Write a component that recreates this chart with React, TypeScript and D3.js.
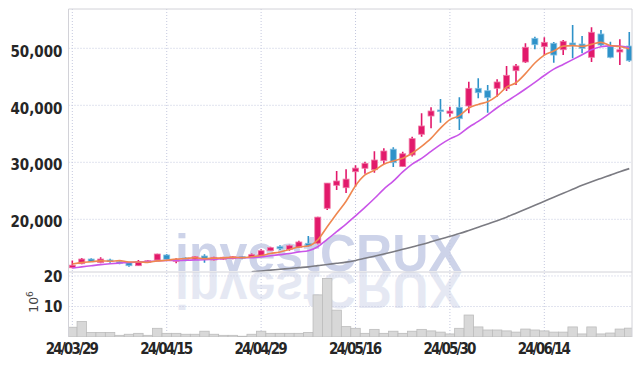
import React from 'react';
import * as d3 from 'd3';

const dates = [
  '2024-03-29',
  '2024-04-01', '2024-04-02', '2024-04-03', '2024-04-04', '2024-04-05',
  '2024-04-08', '2024-04-09', '2024-04-11', '2024-04-12',
  '2024-04-15', '2024-04-16', '2024-04-17', '2024-04-18', '2024-04-19',
  '2024-04-22', '2024-04-23', '2024-04-24', '2024-04-25', '2024-04-26',
  '2024-04-29', '2024-04-30', '2024-05-02', '2024-05-03',
  '2024-05-07', '2024-05-08', '2024-05-09', '2024-05-10',
  '2024-05-13', '2024-05-14', '2024-05-16', '2024-05-17',
  '2024-05-20', '2024-05-21', '2024-05-22', '2024-05-23', '2024-05-24',
  '2024-05-27', '2024-05-28', '2024-05-29', '2024-05-30', '2024-05-31',
  '2024-06-03', '2024-06-04', '2024-06-05', '2024-06-07',
  '2024-06-10', '2024-06-11', '2024-06-12', '2024-06-13', '2024-06-14',
  '2024-06-17', '2024-06-18', '2024-06-19', '2024-06-20', '2024-06-21',
  '2024-06-24', '2024-06-25', '2024-06-26', '2024-06-27',
];

const opens = [
  11500, 12210, 13030, 12400, 12860, 12550, 12380, 11860, 12450, 12860,
  13740, 12630, 13210, 13000, 13560, 12860, 13000, 13090, 13440, 13330,
  13560, 14490, 15190, 14720, 15080, 15790, 15790, 21930, 25960, 25540,
  28350, 28950, 28700, 30280, 32300, 29250, 31280, 34920, 38120, 39180,
  38600, 39650, 39880, 42980, 42560, 42980, 42910, 46070, 47600, 51750,
  50280, 50880, 49750, 50930, 50750, 48420, 52510, 50280, 49350, 50400,
];
const highs = [
  12780, 13210, 13160, 13330, 13090, 12680, 12510, 12860, 12860, 13970,
  13910, 13160, 13330, 13560, 13860, 13440, 13440, 13560, 13560, 14000,
  14730, 15190, 15440, 15550, 16240, 17070, 20460, 26370, 28470, 28770,
  29470, 30100, 31920, 32460, 32640, 31860, 34490, 38600, 39650, 41100,
  39760, 41400, 44140, 44730, 43560, 44560, 46900, 47250, 50880, 52040,
  51930, 51100, 51460, 54090, 52160, 53680, 53210, 51160, 51580, 52860,
];
const lows = [
  11430, 12100, 12500, 12300, 12390, 12100, 11680, 11810, 12420, 12800,
  12800, 12280, 12630, 12860, 12390, 12750, 12900, 13000, 13000, 13210,
  13440, 14440, 14610, 14490, 14970, 15190, 15610, 21630, 25140, 24600,
  25720, 28000, 28180, 29700, 29180, 29180, 31000, 34490, 35960, 36950,
  38000, 35670, 38600, 41230, 38700, 41510, 42500, 43560, 47400, 49820,
  48820, 47470, 48820, 48250, 49120, 47600, 50400, 48250, 47070, 47650,
];
const closes = [
  11950, 13030, 12560, 13030, 12650, 12450, 11860, 12560, 12730, 13910,
  12980, 12980, 13000, 13440, 13090, 13330, 13330, 13440, 13210, 13790,
  14490, 15020, 14840, 15370, 16020, 15320, 20380, 26350, 26720, 27050,
  28980, 29820, 30400, 31980, 29930, 31500, 34150, 36370, 39000, 38950,
  39000, 37650, 42980, 42210, 41330, 44090, 45260, 46900, 50180, 50630,
  51050, 48820, 51230, 50580, 50000, 52810, 50580, 48420, 49750, 47820,
];
// volume, in millions of shares
const volumes = [
  3.2, 5.1, 1.5, 1.5, 1.5, 0.55, 0.9, 1.2, 0.55, 2.85,
  1.2, 1.2, 0.9, 0.9, 1.9, 0.9, 0.55, 0.55, 0.25, 0.9,
  1.9, 1.2, 1.2, 1.2, 1.2, 1.5, 13.8, 19.2, 8.8, 3.4,
  2.85, 1.2, 2.5, 1.2, 1.9, 1.2, 1.9, 2.5, 2.0, 1.6,
  1.0, 2.85, 7.2, 3.3, 2.3, 2.3, 2.0, 1.6, 2.6, 2.3,
  2.0, 1.6, 1.6, 3.3, 1.0, 3.3, 1.0, 1.3, 2.6, 2.9,
];
const ma5 = [
  12150, 12400, 12550, 12700, 12644, 12744, 12510, 12510, 12450, 12702,
  12808, 13032, 13120, 13262, 13098, 13168, 13238, 13326, 13280, 13420,
  13652, 13990, 14270, 14702, 15148, 15314, 16386, 18688, 20958, 23164,
  25896, 27784, 28594, 29646, 30222, 30726, 31592, 32786, 34190, 35994,
  37494, 38194, 39516, 40158, 40634, 41652, 43174, 43958, 45552, 47412,
  48804, 49516, 50382, 50462, 50336, 50688, 51040, 50478, 50312, 49876,
];
const ma10 = [
  11450, 11650, 11850, 12050, 12200, 12320, 12420, 12500, 12580, 12673,
  12776, 12771, 12815, 12856, 12900, 12988, 13135, 13223, 13271, 13259,
  13410, 13614, 13798, 13991, 14284, 14483, 15188, 16479, 17830, 19156,
  20605, 22085, 23641, 25302, 26693, 28311, 29688, 30690, 31918, 33108,
  34110, 34893, 36151, 37174, 38314, 39573, 40684, 41737, 42855, 44023,
  45228, 46345, 47170, 48007, 48874, 49746, 50278, 50430, 50387, 50106,
];
const ma60: (number | null)[] = [
  null, null, null, null, null, null, null, null, null, null,
  null, null, null, null, null, null, null, null, null, 10790,
  10940, 11080, 11230, 11370, 11520, 11660, 11870, 12080, 12280, 12490,
  12780, 13150, 13520, 13900, 14310, 14730, 15150, 15580, 16050, 16530,
  17010, 17490, 18040, 18610, 19180, 19760, 20380, 21070, 21770, 22460,
  23160, 23860, 24560, 25260, 25960, 26580, 27170, 27750, 28340, 28890,
];
const priceTicks = [20000, 30000, 40000, 50000];
const volumeTicks = [10, 20];
const dateTickIndex = [0, 10, 20, 30, 40, 50];

const RED = '#e2196b';
const RED_EDGE = '#f07aa6';
const BLUE = '#2e92c9';
const BLUE_EDGE = '#86c1e2';
const GRID = '#c4c8de';
const FONT = "'Liberation Sans Narrow', 'DejaVu Sans Condensed', sans-serif";

export default function App() {
  const W = 642;
  const H = 366;
  const left = 68.5;
  const right = 632;
  const top = 9;
  const priceBottom = 272;
  const volBottom = 337;

  const x = d3.scaleBand<string>().domain(dates).range([67.6, 634]).padding(0);
  const bw = x.bandwidth();
  const cx = (i: number) => (x(dates[i]) as number) + bw / 2;
  const y = d3.scaleLinear().domain([10754, 56895]).range([priceBottom, top]);
  const yv = d3.scaleLinear().domain([0, 21.3]).range([volBottom, priceBottom]);

  const parse = d3.timeParse('%Y-%m-%d');
  const fmtDate = d3.timeFormat('%y/%m/%d');
  const fmtPrice = d3.format(',');

  const line = d3
    .line<number | null>()
    .defined((d) => d !== null)
    .x((_, i) => cx(i))
    .y((d) => y(d as number))
    .curve(d3.curveMonotoneX);

  const candleW = 6;

  return (
    <svg
      width={W}
      height={H}
      viewBox={`0 0 ${W} ${H}`}
      style={{ position: 'absolute', left: 0, top: 0, background: '#fff' }}
    >
      <defs>
        <clipPath id="priceClip">
          <rect x={left} y={top} width={right - left} height={priceBottom - top} />
        </clipPath>
        <clipPath id="volClip">
          <rect x={left} y={priceBottom} width={right - left} height={volBottom - priceBottom} />
        </clipPath>
      </defs>

      {/* watermark with its reflection */}
      <g clipPath="url(#priceClip)">
        <text
          id="wm"
          x={175}
          y={271}
          fill="#cdd3e9"
          fontFamily="'Liberation Sans', Arial, sans-serif"
          fontWeight="bold"
          fontSize={52}
          textLength={287}
          lengthAdjust="spacingAndGlyphs"
        >
          investCRUX
        </text>
      </g>
      <g clipPath="url(#volClip)">
        <use href="#wm" transform={`translate(0, ${2 * 271.5}) scale(1,-1)`} opacity={0.5} />
      </g>

      {/* grid */}
      <g stroke={GRID} strokeWidth={1} strokeDasharray="1 2" fill="none">
        {priceTicks.map((t) => (
          <line key={'pg' + t} x1={left} x2={right} y1={y(t)} y2={y(t)} />
        ))}
        {volumeTicks.map((t) => (
          <line key={'vg' + t} x1={left} x2={right} y1={yv(t)} y2={yv(t)} />
        ))}
        {dateTickIndex.map((i) => (
          <line key={'dg' + i} x1={cx(i)} x2={cx(i)} y1={top} y2={volBottom} />
        ))}
      </g>

      {/* volume */}
      <g clipPath="url(#volClip)">
        {volumes.map((v, i) => (
          <rect
            key={'v' + i}
            x={x(dates[i]) as number}
            y={yv(v)}
            width={bw}
            height={volBottom - yv(v)}
            fill="#d8d8d8"
            stroke="#bcbcbc"
            strokeWidth={0.8}
          />
        ))}
      </g>

      {/* candles */}
      <g clipPath="url(#priceClip)">
        {dates.map((d, i) => {
          const o = opens[i];
          const c = closes[i];
          const up = c >= o;
          const col = up ? RED : BLUE;
          const edge = up ? RED_EDGE : BLUE_EDGE;
          const yTop = y(Math.max(o, c));
          const yBot = y(Math.min(o, c));
          const h = Math.max(yBot - yTop, 1.5);
          return (
            <g key={'c' + i}>
              <line x1={cx(i)} x2={cx(i)} y1={y(highs[i])} y2={y(lows[i])} stroke={col} strokeWidth={1.6} />
              <rect x={cx(i) - candleW / 2} y={yTop} width={candleW} height={h} fill={col} stroke={edge} strokeWidth={0.8} />
            </g>
          );
        })}
        <path d={line(ma60) || ''} fill="none" stroke="#7b7b82" strokeWidth={1.6} />
        <path d={line(ma10) || ''} fill="none" stroke="#c955e8" strokeWidth={1.6} />
        <path d={line(ma5) || ''} fill="none" stroke="#ef8750" strokeWidth={1.6} />
      </g>

      {/* frame */}
      <g stroke="#d2d2d8" strokeWidth={1} fill="none">
        <line x1={left} x2={right} y1={top} y2={top} />
        <line x1={left} x2={left} y1={top} y2={volBottom} />
        <line x1={right} x2={right} y1={top} y2={volBottom} />
        <line x1={left} x2={right} y1={priceBottom} y2={priceBottom} />
      </g>

      {/* price labels */}
      <g fontFamily={FONT} fontSize={15} fontWeight="bold" fill="#262626" textAnchor="end">
        {priceTicks.map((t) => (
          <text key={'pl' + t} x={62.5} y={y(t) + 8.2}>
            {fmtPrice(t)}
          </text>
        ))}
        {volumeTicks.map((t) => (
          <text key={'vl' + t} x={62.5} y={yv(t) + 5.6}>
            {t}
          </text>
        ))}
      </g>

      {/* date labels */}
      <g fontFamily={FONT} fontSize={15} fontWeight="bold" fill="#262626" textAnchor="middle">
        {dateTickIndex.map((i) => (
          <text key={'dl' + i} x={cx(i)} y={354} textLength={53} lengthAdjust="spacing">
            {fmtDate(parse(dates[i]) as Date)}
          </text>
        ))}
      </g>

      {/* volume unit */}
      <text
        transform="translate(37.5, 302) rotate(-90)"
        textAnchor="middle"
        fontFamily="'DejaVu Sans', sans-serif"
        fontSize={12.5}
        fill="#444"
      >
        10
        <tspan fontSize={9} dy={-5}>
          6
        </tspan>
      </text>
    </svg>
  );
}
